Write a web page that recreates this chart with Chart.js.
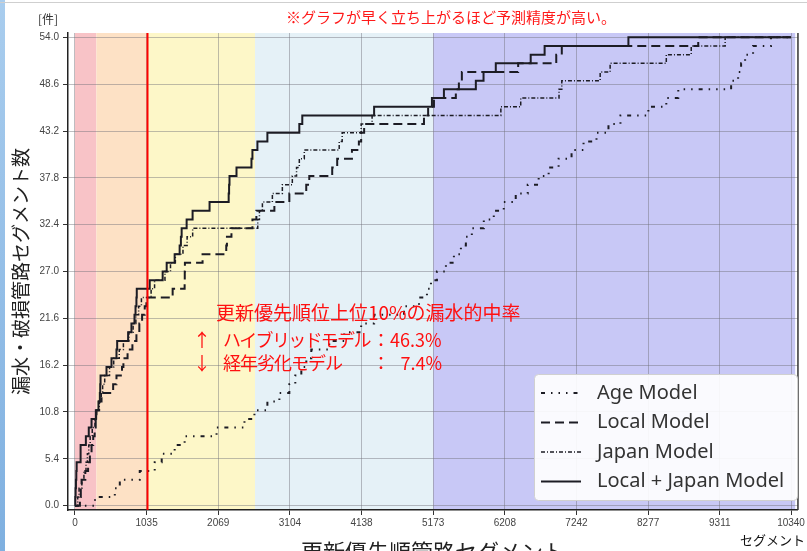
<!DOCTYPE html>
<html>
<head>
<meta charset="utf-8">
<script src="https://cdn.jsdelivr.net/npm/chart.js@4.4.0/dist/chart.umd.min.js"></script>
<style>
    html, body { margin: 0; padding: 0; background: #fff; }
    #wrap { position: relative; width: 807px; height: 551px; overflow: hidden; }
    #edge { position: absolute; left: 0; top: 0; width: 5px; height: 551px; background: linear-gradient(#a9cdee, #7fb0e0); }
    #topline { position: absolute; left: 0; top: 2px; width: 807px; height: 1px; background: #cfcfcf; }
</style>
</head>
<body>
<div id="wrap">
    <canvas id="chart" width="807" height="551"></canvas>
    <div id="edge"></div>
    <div id="topline"></div>
</div>
<script>
// axis ticks
const xTicks = [0, 1035, 2069, 3104, 4138, 5173, 6208, 7242, 8277, 9311, 10340];
const yTicks = [0.0, 5.4, 10.8, 16.2, 21.6, 27.0, 32.4, 37.8, 43.2, 48.6, 54.0];

// priority bands (segment rank ranges) and the top-10% cutoff
const bandEdges = [0, 310, 1035, 2600, 5173, 10400];
const cutoff = 1035;

const seriesNames = ["Age Model", "Local Model", "Japan Model", "Local + Japan Model"];

// cumulative hits: x = segment rank where the count steps up, y = count
const ageX = [0, 290, 576, 648, 936, 1152, 1253, 1440, 1584, 2045, 2448, 2592, 2779, 2952, 3096, 3182, 3269, 3341, 3413, 3672, 3888, 4133, 4320, 4752, 4968, 5083, 5141, 5227, 5357, 5472, 5573, 5645, 5731, 5904, 6048, 6192, 6365, 6538, 6696, 6840, 6984, 7171, 7344, 7531, 7704, 7877, 8280, 8539, 8712, 9475, 9576, 9619, 9677, 9792, 10051, 10340];
const ageY = [0, 1, 2, 3, 4, 5, 6, 7, 8, 9, 10, 11, 12, 13, 14, 15, 16, 17, 18, 19, 20, 21, 22, 23, 24, 25, 26, 27, 28, 29, 30, 31, 32, 33, 34, 35, 36, 37, 38, 39, 40, 41, 42, 43, 44, 45, 46, 47, 48, 49, 50, 51, 52, 53, 54, 54];

const localX = [0, 72, 85, 96, 150, 190, 216, 240, 264, 285, 300, 312, 350, 384, 552, 600, 680, 700, 760, 830, 888, 930, 970, 1008, 1032, 1411, 1584, 1586, 1588, 1843, 2185, 2195, 2260, 2563, 2620, 2880, 3096, 3340, 3384, 3715, 3787, 4000, 4100, 4133, 4176, 5040, 5100, 5184, 5500, 5544, 5587, 6400, 6950, 7030, 9000, 10340];
const localY = [0, 1, 2, 3, 4, 5, 6, 7, 8, 9, 10, 11, 12, 13, 14, 15, 16, 17, 18, 19, 20, 21, 22, 23, 24, 25, 26, 27, 28, 29, 30, 31, 32, 33, 34, 35, 36, 37, 38, 39, 40, 41, 42, 43, 44, 45, 46, 47, 48, 49, 50, 51, 52, 53, 54, 54];

const japanX = [0, 40, 60, 100, 130, 160, 180, 200, 220, 250, 290, 310, 350, 380, 400, 430, 500, 560, 640, 700, 780, 840, 880, 920, 960, 1100, 1150, 1300, 1380, 1450, 1560, 1620, 1700, 2640, 2664, 2707, 2851, 2995, 3139, 3200, 3240, 3312, 3816, 3859, 4133, 4291, 6150, 6437, 6990, 7030, 7584, 7728, 8539, 8899, 9389, 10340];
const japanY = [0, 1, 2, 3, 4, 5, 6, 7, 8, 9, 10, 11, 12, 13, 14, 15, 16, 17, 18, 19, 20, 21, 22, 23, 24, 25, 26, 27, 28, 29, 30, 31, 32, 33, 34, 35, 36, 37, 38, 39, 40, 41, 42, 43, 44, 45, 46, 47, 48, 49, 50, 51, 52, 53, 54, 54];

const hybridX = [0, 5, 10, 15, 20, 25, 82, 158, 200, 240, 302, 340, 360, 365, 370, 456, 528, 600, 610, 768, 816, 860, 875, 888, 893, 1080, 1267, 1325, 1440, 1512, 1530, 1541, 1613, 1699, 1944, 2220, 2226, 2232, 2333, 2549, 2563, 2635, 2779, 3240, 3283, 4320, 5155, 5328, 5789, 5900, 6077, 6581, 6782, 7992, 10340];
const hybridY = [0, 1, 2, 3, 4, 5, 7, 8, 9, 10, 11, 12, 13, 14, 15, 16, 17, 18, 19, 20, 21, 22, 23, 24, 25, 26, 27, 28, 29, 30, 31, 32, 33, 34, 35, 36, 37, 38, 39, 40, 41, 42, 43, 44, 45, 46, 47, 48, 49, 50, 51, 52, 53, 54, 54];

const bandColors = ["#f8c3c7", "#fde1c5", "#fdf7c8", "#e5f1f7", "#c8c8f6"];
const jpFont = "'Noto Sans CJK JP', sans-serif";

function pts(xs, ys) {
    return xs.map((x, i) => ({ x: x, y: ys[i] }));
}

// colored background bands, under the grid
const bandsPlugin = {
    id: "bands",
    beforeDraw(chart) {
        const { ctx, chartArea: a, scales: { x } } = chart;
        ctx.save();
        for (let i = 0; i < bandColors.length; i++) {
            const l = x.getPixelForValue(bandEdges[i]);
            const r = x.getPixelForValue(bandEdges[i + 1]);
            ctx.fillStyle = bandColors[i];
            ctx.fillRect(l, a.top, r - l, a.bottom - a.top);
        }
        ctx.restore();
    }
};

// red cutoff line + annotation text
const notesPlugin = {
    id: "notes",
    afterDatasetsDraw(chart) {
        const { ctx, chartArea: a, scales: { x } } = chart;
        const cx = Math.round(x.getPixelForValue(cutoff)) + 0.5;
        ctx.save();
        ctx.strokeStyle = "#ff0000";
        ctx.lineWidth = 2;
        ctx.beginPath();
        ctx.moveTo(cx, a.top);
        ctx.lineTo(cx, a.bottom);
        ctx.stroke();

        ctx.fillStyle = "#ff1010";
        ctx.textBaseline = "middle";
        ctx.textAlign = "left";
        ctx.font = "19px " + jpFont;
        ctx.fillText("更新優先順位上位10%の漏水的中率", 216, 313);
        ctx.font = "18px " + jpFont;
        ctx.fillText("↑", 193, 340);
        ctx.fillText("↓", 193, 363);
        ctx.fillText("：46.3%", 372, 340);
        ctx.fillText("：", 372, 363);
        ctx.textAlign = "right";
        ctx.fillText("7.4%", 442, 363);
        ctx.textAlign = "left";
        ctx.letterSpacing = "-1.7px";
        ctx.fillText("ハイブリッドモデル", 223, 340);
        ctx.letterSpacing = "-1px";
        ctx.fillText("経年劣化モデル", 223, 363);
        ctx.letterSpacing = "0px";
        ctx.restore();
    },
    afterDraw(chart) {
        const { ctx, chartArea: a } = chart;
        ctx.save();
        // right spine
        ctx.strokeStyle = "#333";
        ctx.lineWidth = 1.5;
        ctx.beginPath();
        ctx.moveTo(a.right, a.top);
        ctx.lineTo(a.right, a.bottom);
        ctx.stroke();

        // legend box
        const bx = 534, by = 374, bw = 263, bh = 126;
        ctx.fillStyle = "rgba(255,255,255,0.9)";
        ctx.strokeStyle = "#d0d0d0";
        ctx.lineWidth = 1;
        ctx.beginPath();
        ctx.roundRect(bx + 0.5, by + 0.5, bw, bh, 4);
        ctx.fill();
        ctx.stroke();
        chart.data.datasets.forEach((ds, i) => {
            const ly = by + 19 + i * 29.5;
            ctx.strokeStyle = ds.borderColor;
            ctx.lineWidth = ds.borderWidth;
            ctx.setLineDash(ds.borderDash || []);
            ctx.beginPath();
            ctx.moveTo(541, ly);
            ctx.lineTo(581, ly);
            ctx.stroke();
            ctx.setLineDash([]);
            ctx.fillStyle = "#333";
            ctx.font = "20px 'Noto Sans', sans-serif";
            ctx.textBaseline = "middle";
            ctx.textAlign = "left";
            ctx.fillText(ds.label, 597, ly);
        });

        // header texts
        ctx.textBaseline = "middle";
        ctx.textAlign = "center";
        ctx.fillStyle = "#ff1a1a";
        ctx.font = "15px " + jpFont;
        ctx.fillText("※グラフが早く立ち上がるほど予測精度が高い。", 451, 17);
        ctx.fillStyle = "#333";
        ctx.font = "12px " + jpFont;
        ctx.fillText("[件]", 48, 19);
        ctx.fillStyle = "#111";
        ctx.font = "13px " + jpFont;
        ctx.textAlign = "left";
        ctx.fillText("セグメント", 740, 540);
        ctx.restore();
    }
};

const lineColor = "#1c1c24";

new Chart(document.getElementById("chart").getContext("2d"), {
    type: "line",
    data: {
        datasets: [
            { label: seriesNames[0], data: pts(ageX, ageY), borderColor: lineColor, borderWidth: 2, borderDash: [4, 6, 1.5, 6, 1.5, 6, 1.5, 6] },
            { label: seriesNames[1], data: pts(localX, localY), borderColor: lineColor, borderWidth: 2, borderDash: [9, 5] },
            { label: seriesNames[2], data: pts(japanX, japanY), borderColor: lineColor, borderWidth: 1.5, borderDash: [4, 2, 1, 2] },
            { label: seriesNames[3], data: pts(hybridX, hybridY), borderColor: lineColor, borderWidth: 2 }
        ]
    },
    options: {
        responsive: false,
        animation: false,
        devicePixelRatio: 1,
        layout: { padding: { top: 33, right: 7, bottom: 0, left: 0 } },
        elements: {
            point: { radius: 0 },
            line: { stepped: "before", tension: 0, fill: false }
        },
        plugins: {
            legend: { display: false },
            tooltip: { enabled: false }
        },
        scales: {
            x: {
                type: "linear",
                min: -100,
                max: 10440,
                afterBuildTicks: s => { s.ticks = xTicks.map(v => ({ value: v })); },
                afterFit: s => { s.height = 41; },
                ticks: {
                    autoSkip: false,
                    maxRotation: 0,
                    padding: 2,
                    color: "#444",
                    font: { family: "'Liberation Sans', sans-serif", size: 10 },
                    callback: v => String(v)
                },
                grid: { color: "rgba(110,110,120,0.45)", tickColor: "#333", tickLength: 5 },
                border: { color: "#222", width: 1.5 },
                title: {
                    display: true,
                    text: "更新優先順管路セグメント",
                    color: "#222",
                    font: { family: jpFont, size: 22 },
                    padding: { top: 0, bottom: -14 }
                }
            },
            y: {
                min: -0.5,
                max: 54.5,
                afterBuildTicks: s => { s.ticks = yTicks.map(v => ({ value: v })); },
                afterFit: s => { s.width = 68; },
                ticks: {
                    padding: 4,
                    color: "#444",
                    font: { family: "'Liberation Sans', sans-serif", size: 10 },
                    callback: v => Number(v).toFixed(1)
                },
                grid: { color: "rgba(110,110,120,0.45)", tickColor: "#333", tickLength: 5 },
                border: { color: "#222", width: 1.5 },
                title: {
                    display: true,
                    text: "漏水・破損管路セグメント数",
                    color: "#222",
                    font: { family: jpFont, size: 19 },
                    padding: { top: 9, bottom: 0 }
                }
            }
        }
    },
    plugins: [bandsPlugin, notesPlugin]
});
</script>
</body>
</html>
